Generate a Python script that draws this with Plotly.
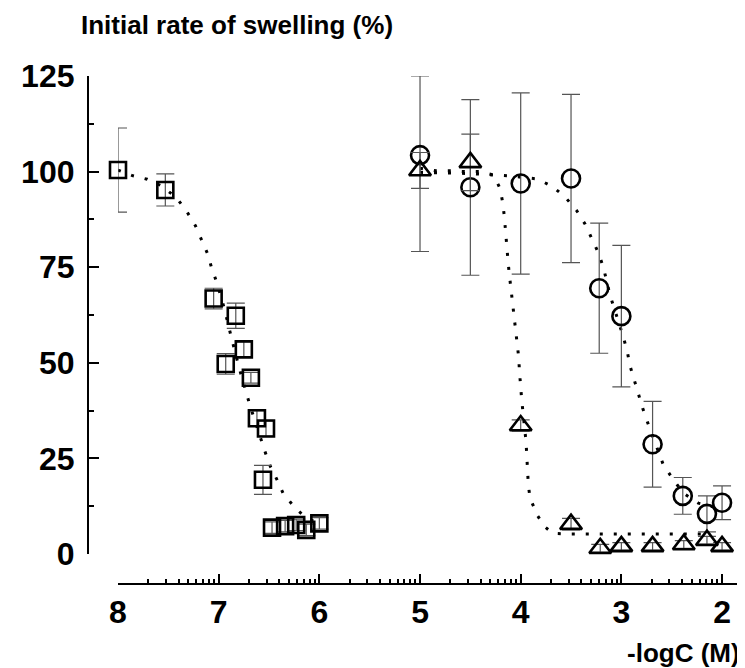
import plotly.graph_objects as go

# ---- data (x values are -logC (M); y values are initial rate of swelling %) ----
sq_x = [8.0, 7.53, 7.05, 6.83, 6.93, 6.75, 6.68, 6.62, 6.53, 6.56, 6.47, 6.34, 6.23, 6.13, 6.0]
sq_y = [100.4, 95.2, 66.8, 62.3, 49.7, 53.5, 46.1, 35.5, 32.8, 19.4, 6.9, 7.3, 7.6, 6.3, 8.0]
sq_err = [11.0, 4.2, 2.7, 3.3, 2.7, 2.0, 1.4, 2.0, 2.0, 3.8, 1.5, 1.5, 1.5, 1.5, 1.5]

ci_x = [5.0, 4.5, 4.0, 3.5, 3.22, 3.0, 2.69, 2.39, 2.15, 2.0]
ci_y = [104.3, 95.9, 96.9, 98.2, 69.5, 62.2, 28.7, 15.2, 10.5, 13.4]
ci_err_plus = [20.7, 22.9, 23.7, 22.0, 17.0, 18.5, 11.2, 4.8, 4.7, 4.4]
ci_err_minus = [25.2, 23.0, 23.7, 22.0, 17.0, 18.5, 11.2, 4.8, 4.7, 4.4]

tr_x = [5.0, 4.5, 4.0, 3.5, 3.21, 3.0, 2.69, 2.38, 2.15, 2.0]
tr_y = [100.3, 102.4, 33.6, 7.8, 1.5, 2.0, 2.0, 2.5, 3.6, 2.0]
tr_err = [4.7, 7.4, 1.5, 1.5, 1.0, 1.0, 1.0, 1.0, 1.0, 1.0]

# fitted (dotted) curves
sq_fit_x = [8.0, 7.85, 7.71, 7.57, 7.42, 7.32, 7.23, 7.17, 7.11, 7.07, 7.02, 6.98,
            6.94, 6.87, 6.80, 6.72, 6.68, 6.54, 6.49, 6.42, 6.36, 6.24, 6.14, 6.0]
sq_fit_y = [100.4, 98.9, 98.0, 96.3, 93.2, 89.7, 85.8, 82.1, 78.5, 74.8, 71.1, 67.5,
            63.8, 56.2, 49.0, 41.6, 38.1, 26.8, 23.1, 19.4, 15.9, 12.0, 9.7, 7.8]

tr_fit_x = [5.0, 4.84, 4.69, 4.55, 4.41, 4.27, 4.205, 4.18, 4.163, 4.149, 4.139, 4.128,
            4.115, 4.099, 4.08, 4.063, 4.046, 4.034, 4.02, 4.012, 4.0, 3.99, 3.947,
            3.94, 3.924, 3.907, 3.83, 3.76, 3.68, 3.5, 3.0, 2.5, 2.17]
tr_fit_y = [100.9, 100.2, 100.2, 100.0, 100.0, 99.1, 95.6, 92.1, 88.4, 84.7, 81.0, 77.3,
            73.6, 69.9, 66.3, 62.5, 58.8, 55.1, 51.5, 47.7, 43.9, 40.3, 29.4,
            25.4, 18.0, 14.6, 9.9, 7.1, 5.4, 5.2, 5.2, 5.2, 5.2]

ci_fit_x = [5.0, 4.75, 4.5, 4.27, 4.12, 3.84, 3.69, 3.56, 3.444, 3.361, 3.295, 3.229,
            3.179, 3.113, 2.981, 2.941, 2.914, 2.874, 2.832, 2.788, 2.742, 2.583,
            2.49, 2.385, 2.236, 2.0]
ci_fit_y = [99.8, 99.6, 99.5, 99.1, 98.9, 98.1, 96.2, 93.4, 89.8, 86.3, 82.6, 78.8,
            75.0, 67.7, 56.8, 52.9, 49.2, 45.5, 42.0, 38.1, 34.6, 23.3,
            19.7, 15.9, 13.3, 11.8]

x_tick_labels = ["8", "7", "6", "5", "4", "3", "2"]
y_tick_vals = [0, 25, 50, 75, 100, 125]


def conc(v):
    return [10 ** (-a) for a in v]


FONT = "Liberation Sans, Arial, sans-serif"
fig = go.Figure()

dot_line = dict(color="black", width=3, dash="3px,11px")
for fx, fy in [(sq_fit_x, sq_fit_y), (tr_fit_x, tr_fit_y), (ci_fit_x, ci_fit_y)]:
    fig.add_trace(go.Scatter(x=conc(fx), y=fy, mode="lines", line=dot_line,
                             hoverinfo="skip", showlegend=False))

err_style = dict(type="data", color="#555555", thickness=1.2, width=9)

fig.add_trace(go.Scatter(
    x=conc(sq_x), y=sq_y, mode="markers", cliponaxis=False,
    marker=dict(symbol="square-open", size=16, color="black", line=dict(width=2.6)),
    error_y=dict(array=sq_err, **err_style), showlegend=False))

fig.add_trace(go.Scatter(
    x=conc(ci_x), y=ci_y, mode="markers", cliponaxis=False,
    marker=dict(symbol="circle-open", size=18, color="black", line=dict(width=2.6)),
    error_y=dict(array=ci_err_plus, arrayminus=ci_err_minus, symmetric=False, **err_style),
    showlegend=False))

fig.add_trace(go.Scatter(
    x=conc(tr_x), y=tr_y, mode="markers", cliponaxis=False,
    marker=dict(symbol="triangle-up-open", size=19, color="black", line=dict(width=2.6)),
    error_y=dict(array=tr_err, **err_style), showlegend=False))

major_x = [10 ** (-int(t)) for t in x_tick_labels]
minor_x = []
for n in range(8, 2, -1):
    for k in range(2, 10):
        minor_x.append(k * 10 ** (-n))

# the page body adds an 8px offset, so the figure is 8px smaller than the window
fig.update_layout(
    width=737, height=660,
    margin=dict(l=80, r=0, t=68, b=84),
    plot_bgcolor="white", paper_bgcolor="white",
    showlegend=False,
    title=dict(text="Initial rate of swelling (%)", x=73 / 737, xanchor="left",
               xref="container", yref="container", y=1 - 17 / 660, yanchor="middle",
               font=dict(family=FONT, size=26, weight=700, color="black")),
    xaxis=dict(
        type="log", range=[-8, -1.772], domain=[30 / 657, 1],
        anchor="free", position=0,
        showline=True, linecolor="black", linewidth=2,
        ticks="inside", ticklen=9, tickwidth=2, tickcolor="black",
        tickmode="array", tickvals=major_x, ticktext=x_tick_labels,
        tickfont=dict(family=FONT, size=32, weight=700, color="black"),
        showgrid=False, zeroline=False,
        minor=dict(tickmode="array", tickvals=minor_x, ticks="inside", ticklen=4,
                   tickwidth=1.5, tickcolor="black", showgrid=False),
    ),
    yaxis=dict(
        range=[0, 125], domain=[30 / 508, 1],
        anchor="free", position=0,
        showline=True, linecolor="black", linewidth=2.2,
        ticks="inside", ticklen=10, tickwidth=2, tickcolor="black",
        tickmode="array", tickvals=y_tick_vals,
        tickfont=dict(family=FONT, size=32, weight=700, color="black"),
        ticklabelstandoff=6,
        showgrid=False, zeroline=False,
        minor=dict(dtick=12.5, tick0=0, ticks="inside", ticklen=5, tickwidth=2,
                   tickcolor="black", showgrid=False),
    ),
    annotations=[dict(text="-logC (M)", xref="paper", yref="paper", x=1.0, xshift=-3,
                      y=-(653 - 584) / 508,
                      xanchor="right", yanchor="middle", showarrow=False,
                      font=dict(family=FONT, size=26, weight=700, color="black"))],
)

fig.write_html("out.html")
